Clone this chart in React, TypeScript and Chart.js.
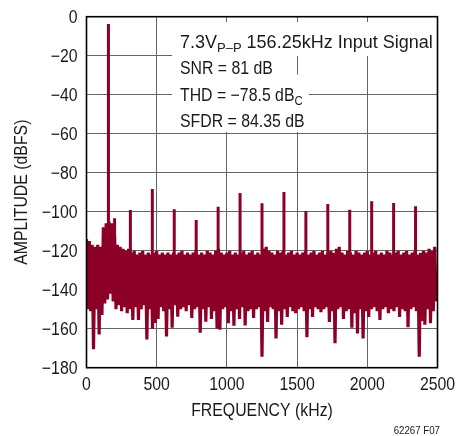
import React, { useEffect, useRef } from 'react';
import { Chart, registerables } from 'chart.js';

Chart.register(...registerables);

// ---------- data ----------
const binStepKHz = 20; // noise-floor bins, 0 .. 2480 kHz

const noiseTop = [
  -114, -115, -117, -118, -117, -118, -108, -106, -105, -106,
  -112, -117, -118, -119, -120, -119, -121, -120, -122, -121,
  -120, -122, -121, -122, -121, -120, -122, -121, -122, -121,
  -122, -121, -122, -121, -120, -122, -121, -122, -121, -120,
  -122, -121, -122, -120, -121, -122, -120, -119, -121, -122,
  -121, -120, -122, -121, -122, -121, -120, -122, -121, -120,
  -122, -121, -122, -119, -118, -120, -121, -122, -120, -121,
  -120, -122, -121, -120, -122, -121, -122, -121, -120, -122,
  -121, -120, -122, -121, -120, -122, -121, -120, -121, -119,
  -118, -121, -122, -120, -121, -122, -120, -121, -122, -121,
  -120, -122, -121, -120, -122, -121, -122, -120, -121, -122,
  -121, -120, -122, -121, -120, -122, -121, -120, -122, -121,
  -120, -121, -119, -120, -118,
];

const noiseBottom = [
  -150, -151, -170.5, -150, -163, -153, -147, -145, -142, -146,
  -150, -148, -151, -149, -152, -150, -155.5, -149, -155.5, -150,
  -148, -165.5, -150, -160, -157, -155, -149, -151, -164, -150,
  -159.5, -148, -153.8, -150, -149, -151, -148, -154.5, -150, -149,
  -162, -150, -156.4, -149, -155, -151, -160, -160.5, -150, -149,
  -157.2, -151, -158.5, -150, -155, -149, -158.3, -151, -150, -154.5,
  -150, -149, -174.4, -151, -156.5, -149, -150, -165, -151, -158,
  -150, -154, -149, -151, -152, -150, -149, -151, -164.4, -150,
  -154, -149, -150, -151.5, -150, -149, -156.5, -151, -167.5, -150,
  -149, -155, -151, -150, -159.5, -152, -162.5, -150, -165, -151,
  -154, -150, -149, -151, -155.5, -150, -149, -152, -150, -151,
  -149, -154, -150, -151, -159.3, -150, -149, -151, -174.4, -156,
  -158, -150, -157.2, -151, -146,
];

const spurFreqs = [
  156.25, 200, 312.5, 468.75, 625, 781.25, 937.5, 1093.75,
  1250, 1406.25, 1562.5, 1718.75, 1875, 2031.25, 2187.5, 2343.75,
];
const spurLevels = [
  -3.8, -103.3, -99.1, -88.4, -98.8, -104.3, -97.4, -90.4,
  -95.7, -89.9, -99.6, -96.1, -99, -94.7, -95.5, -97.2,
];

const xTicks = [0, 500, 1000, 1500, 2000, 2500];
const yTicks = [0, -20, -40, -60, -80, -100, -120, -140, -160, -180];

const xTitle = 'FREQUENCY (kHz)';
const yTitle = 'AMPLITUDE (dBFS)';
const footnote = '62267 F07';

type Seg = { t: string; sub?: boolean };
const annotationLines: Seg[][] = [
  [{ t: '7.3V' }, { t: 'P–P', sub: true }, { t: ' 156.25kHz Input Signal' }],
  [{ t: 'SNR = 81 dB' }],
  [{ t: 'THD = \u221278.5 dB' }, { t: 'C', sub: true }],
  [{ t: 'SFDR = 84.35 dB' }],
];

// ---------- styling ----------
const FONT = "'Liberation Sans', Arial, Helvetica, sans-serif";
const NARROW = 0.88;
const LINE_SCALE = [1.0, NARROW, NARROW, NARROW];
const MAIN_SIZE = 18;
const SUB_SIZE = 13;
const RED = '#8c0028';
const TEXT = '#1a1a1a';
const GRID = '#666666';

function narrowText(
  ctx: CanvasRenderingContext2D,
  text: string,
  x: number,
  y: number,
  size: number,
  align: CanvasTextAlign,
  baseline: CanvasTextBaseline,
  rot = 0,
  sx = NARROW,
) {
  ctx.save();
  ctx.translate(x, y);
  if (rot) ctx.rotate(rot);
  ctx.scale(sx, 1);
  ctx.font = `${size}px ${FONT}`;
  ctx.textAlign = align;
  ctx.textBaseline = baseline;
  ctx.fillStyle = TEXT;
  ctx.fillText(text, 0, 0);
  ctx.restore();
}

function segWidth(ctx: CanvasRenderingContext2D, s: Seg, sx: number) {
  ctx.font = `${s.sub ? SUB_SIZE : MAIN_SIZE}px ${FONT}`;
  return ctx.measureText(s.t).width * sx;
}

const ANN_LEFT = 180;
const ANN_BASE0 = 48;
const ANN_STEP = 26.3;

const textPlugin = {
  id: 'fftText',
  beforeDatasetsDraw(chart: any) {
    const { ctx } = chart;
    ctx.save();
    annotationLines.forEach((segs, i) => {
      const sx = LINE_SCALE[i];
      const w = segs.reduce((a, s) => a + segWidth(ctx, s, sx), 0);
      const b = ANN_BASE0 + i * ANN_STEP;
      const top = b - 26;
      const bottom = i === annotationLines.length - 1 ? b + 5 : b + 8;
      ctx.fillStyle = '#ffffff';
      ctx.fillRect(172, top, ANN_LEFT - 172 + w + 6, bottom - top);
    });
    ctx.restore();
  },
  afterDatasetsDraw(chart: any) {
    const { ctx, chartArea, scales } = chart;
    ctx.save();
    // frame
    ctx.strokeStyle = '#000';
    ctx.lineWidth = 1.6;
    ctx.strokeRect(chartArea.left, chartArea.top, chartArea.right - chartArea.left, chartArea.bottom - chartArea.top);
    ctx.restore();

    // annotation text
    annotationLines.forEach((segs, i) => {
      const sx = LINE_SCALE[i];
      let x = ANN_LEFT;
      const b = ANN_BASE0 + i * ANN_STEP;
      segs.forEach((s) => {
        narrowText(ctx, s.t, x, s.sub ? b + 4 : b, s.sub ? SUB_SIZE : MAIN_SIZE, 'left', 'alphabetic', 0, sx);
        x += segWidth(ctx, s, sx);
      });
    });

    // tick labels
    yTicks.forEach((v) => {
      const y = scales.y.getPixelForValue(v);
      const label = v < 0 ? '\u2212' + Math.abs(v) : String(v);
      narrowText(ctx, label, chartArea.left - 9, y + 1, MAIN_SIZE, 'right', 'middle');
    });
    xTicks.forEach((v) => {
      const x = scales.x.getPixelForValue(v);
      narrowText(ctx, String(v), x, chartArea.bottom + 17, MAIN_SIZE, 'center', 'middle');
    });

    // axis titles
    narrowText(ctx, xTitle, (chartArea.left + chartArea.right) / 2, 411, MAIN_SIZE, 'center', 'middle');
    narrowText(ctx, yTitle, 22, (chartArea.top + chartArea.bottom) / 2, MAIN_SIZE, 'center', 'middle', -Math.PI / 2);

    // figure number
    ctx.save();
    ctx.translate(440, 431);
    ctx.scale(NARROW, 1);
    ctx.font = `11px ${FONT}`;
    ctx.textAlign = 'right';
    ctx.textBaseline = 'middle';
    ctx.fillStyle = TEXT;
    ctx.fillText(footnote, 0, 0);
    ctx.restore();
  },
};

export default function App() {
  const ref = useRef<HTMLCanvasElement>(null);

  useEffect(() => {
    document.body.style.margin = '0';
    if (!ref.current) return;

    const noisePts: { x: number; y: number }[] = [];
    noiseTop.forEach((top, i) => {
      const f = i * binStepKHz;
      noisePts.push({ x: f, y: top });
      noisePts.push({ x: f + binStepKHz / 2, y: noiseBottom[i] });
    });

    const spurPts: { x: number; y: number | null }[] = [];
    spurFreqs.forEach((f, i) => {
      spurPts.push({ x: f, y: -126 }, { x: f, y: spurLevels[i] }, { x: f, y: null });
    });

    const chart = new Chart(ref.current, {
      type: 'line',
      data: {
        datasets: [
          {
            data: noisePts as any,
            borderColor: RED,
            backgroundColor: RED,
            borderWidth: 3.2,
            pointRadius: 0,
            borderJoinStyle: 'bevel',
            tension: 0,
          },
          {
            data: spurPts as any,
            borderColor: RED,
            backgroundColor: RED,
            borderWidth: 3,
            pointRadius: 0,
            spanGaps: false,
            borderCapStyle: 'butt',
            tension: 0,
          },
        ],
      },
      plugins: [textPlugin],
      options: {
        responsive: false,
        animation: false,
        events: [],
        layout: { padding: { top: 16.7, right: 19.5, left: 0, bottom: 0 } },
        plugins: { legend: { display: false }, tooltip: { enabled: false } },
        scales: {
          x: {
            type: 'linear',
            min: 0,
            max: 2500,
            afterBuildTicks: (s: any) => {
              s.ticks = xTicks.map((v) => ({ value: v }));
            },
            afterFit: (s: any) => {
              s.height = 68.3;
            },
            grid: { color: GRID, lineWidth: 1, drawTicks: false },
            border: { display: false },
            ticks: { display: false },
          },
          y: {
            type: 'linear',
            min: -180,
            max: 0,
            afterBuildTicks: (s: any) => {
              s.ticks = yTicks.map((v) => ({ value: v }));
            },
            afterFit: (s: any) => {
              s.width = 86.5;
            },
            grid: { color: GRID, lineWidth: 1, drawTicks: false },
            border: { display: false },
            ticks: { display: false },
          },
        },
      } as any,
    });

    return () => chart.destroy();
  }, []);

  return (
    <div style={{ position: 'fixed', left: 0, top: 0, width: 457, height: 436, background: '#fff' }}>
      <canvas ref={ref} width={457} height={436} style={{ display: 'block' }} />
    </div>
  );
}
